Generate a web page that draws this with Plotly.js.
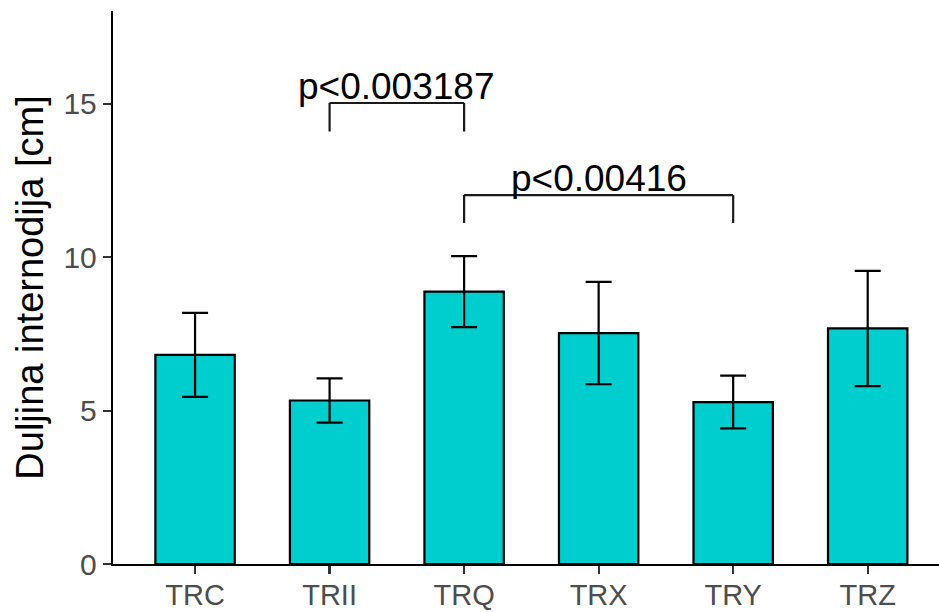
<!DOCTYPE html>
<html>
<head>
<meta charset="utf-8">
<script src="https://cdn.plot.ly/plotly-3.0.1.min.js"></script>
<style>html,body{margin:0;padding:0;background:#fff;}#chart{width:939px;height:612px;}</style>
</head>
<body>
<div id="chart"></div>
<script>
// Data
const categories = ["TRC", "TRII", "TRQ", "TRX", "TRY", "TRZ"];
const means = [6.82, 5.33, 8.88, 7.53, 5.28, 7.68];
const errors = [1.37, 0.72, 1.16, 1.67, 0.86, 1.88];

// Significance brackets: [from, to, bracket height, leg bottom, label]
const bracketFrom = ["TRII", "TRQ"];
const bracketTo = ["TRQ", "TRY"];
const bracketY = [15.03, 12.03];
const bracketLeg = [14.1, 11.12];
const bracketLabels = ["p<0.003187", "p<0.00416"];

const FONT = "Liberation Sans, Arial, sans-serif";

const trace = {
  type: "bar",
  x: categories,
  y: means,
  width: 0.59,
  marker: { color: "#00CDCD", line: { color: "#000000", width: 2.2 } },
  error_y: { type: "data", array: errors, visible: true, color: "#000000", thickness: 2.2, width: 13 },
  hoverinfo: "none"
};

const shapes = [];
const annotations = [];
for (let i = 0; i < bracketFrom.length; i++) {
  const xs = [bracketFrom[i], bracketFrom[i], bracketTo[i], bracketTo[i]];
  const ys = [bracketLeg[i], bracketY[i], bracketY[i], bracketLeg[i]];
  for (let k = 0; k < 3; k++) {
    shapes.push({ type: "line", xref: "x", yref: "y", x0: xs[k], y0: ys[k], x1: xs[k + 1], y1: ys[k + 1],
      line: { color: "#1a1a1a", width: 2.2 } });
  }
  const iFrom = categories.indexOf(bracketFrom[i]);
  const iTo = categories.indexOf(bracketTo[i]);
  annotations.push({ xref: "x", yref: "y", x: (iFrom + iTo) / 2, y: bracketY[i], text: bracketLabels[i],
    showarrow: false, xanchor: "center", yanchor: "bottom", yshift: -6,
    font: { family: FONT, size: 37, color: "#000000" } });
}

const layout = {
  width: 939, height: 612,
  margin: { l: 113, r: 0, t: 11, b: 48, pad: 0 },
  paper_bgcolor: "#ffffff", plot_bgcolor: "#ffffff",
  showlegend: false,
  font: { family: FONT },
  xaxis: {
    type: "category", range: [-0.61, 5.53], showgrid: false, zeroline: false,
    showline: true, linecolor: "#000000", linewidth: 2.2,
    ticks: "outside", ticklen: 8, tickwidth: 2.2, tickcolor: "#333333",
    ticklabelstandoff: -4,
    tickfont: { family: FONT, size: 29, color: "#4D4D4D" }
  },
  yaxis: {
    range: [0, 18.03], showgrid: false, zeroline: false,
    tickvals: [0, 5, 10, 15],
    showline: true, linecolor: "#000000", linewidth: 2.2,
    ticks: "outside", ticklen: 8, tickwidth: 2.2, tickcolor: "#333333",
    tickfont: { family: FONT, size: 30, color: "#4D4D4D" },
    title: { text: "Duljina internodija [cm]", font: { family: FONT, size: 38, color: "#000000" }, standoff: 8 }
  },
  shapes: shapes,
  annotations: annotations
};

Plotly.newPlot("chart", [trace], layout, { staticPlot: true, displayModeBar: false });
</script>
</body>
</html>
